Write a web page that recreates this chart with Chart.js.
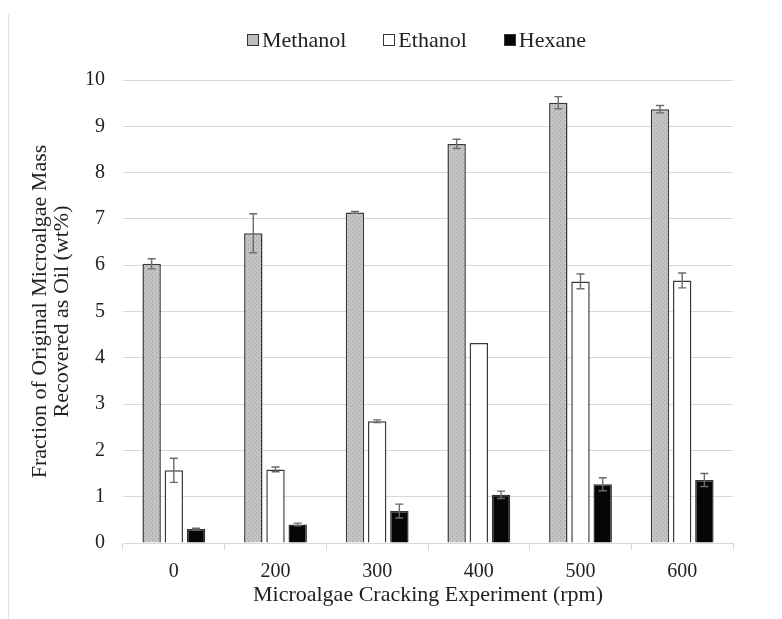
<!DOCTYPE html>
<html>
<head>
<meta charset="utf-8">
<script src="https://cdn.jsdelivr.net/npm/chart.js@4.4.1/dist/chart.umd.min.js"></script>
<style>
  body { margin: 0; background: #fff; }
  #wrap { position: relative; width: 782px; height: 619px; }
  #frame { position: absolute; left: 8px; top: 14px; width: 1px; height: 605px; background: #e3e3e3; }
  #legend { position: absolute; left: 247px; top: 27px; display: flex; align-items: center;
            font-family: "Liberation Serif", "Times New Roman", serif; font-size: 22px; color: #222; }
  #legend .item { display: flex; align-items: center; margin-right: 37px; }
  #legend .box { width: 12px; height: 12px; box-sizing: border-box; border: 1px solid #333; margin-right: 3px; }
</style>
</head>
<body>
<div id="wrap">
  <canvas id="chart" width="782" height="619"></canvas>
  <div id="frame"></div>
  <div id="legend"></div>
</div>
<script>
// ── Data ─────────────────────────────────────────────
const speeds      = ["0", "200", "300", "400", "500", "600"];
const methanol    = [6.03, 6.69, 7.14, 8.62, 9.51, 9.37];
const methanolErr = [0.11, 0.42, 0.02, 0.10, 0.13, 0.08];
const ethanol     = [1.57, 1.59, 2.63, 4.32, 5.65, 5.67];
const ethanolErr  = [0.26, 0.05, 0.03, 0.00, 0.16, 0.16];
const hexane      = [0.30, 0.40, 0.69, 1.04, 1.27, 1.36];
const hexaneErr   = [0.02, 0.03, 0.15, 0.08, 0.14, 0.14];
const yTicks      = [0, 1, 2, 3, 4, 5, 6, 7, 8, 9, 10];

const FONT = "'Liberation Serif', 'Times New Roman', serif";
const TEXT = "#222";
const GRID = "#d9d9d9";

// stippled grey fill for methanol bars
function stipple() {
  const c = document.createElement("canvas");
  c.width = 4; c.height = 4;
  const g = c.getContext("2d");
  g.fillStyle = "#c4c4c4";
  g.fillRect(0, 0, 4, 4);
  g.fillStyle = "#a0a0a0";
  g.fillRect(0, 0, 1, 1);
  g.fillRect(2, 2, 1, 1);
  return g.createPattern(c, "repeat");
}
const methanolFill = stipple();

// ── Error bars ───────────────────────────────────────
const errorBars = {
  id: "errorBars",
  afterDatasetsDraw(chart) {
    const ctx = chart.ctx;
    const y = chart.scales.y;
    ctx.save();
    ctx.strokeStyle = "#6b6b6b";
    ctx.lineWidth = 1.4;
    chart.data.datasets.forEach((ds, di) => {
      if (!ds.errors) return;
      chart.getDatasetMeta(di).data.forEach((bar, i) => {
        const e = ds.errors[i];
        if (!e) return;
        const top = y.getPixelForValue(ds.data[i] + e);
        const bot = y.getPixelForValue(ds.data[i] - e);
        ctx.beginPath();
        ctx.moveTo(bar.x, top); ctx.lineTo(bar.x, bot);
        ctx.moveTo(bar.x - 4, top); ctx.lineTo(bar.x + 4, top);
        ctx.moveTo(bar.x - 4, bot); ctx.lineTo(bar.x + 4, bot);
        ctx.stroke();
      });
    });
    ctx.restore();
  }
};

const datasets = [
  { label: "Methanol", data: methanol, errors: methanolErr, backgroundColor: methanolFill, borderColor: "#3a3a3a", legendFill: "#bdbdbd" },
  { label: "Ethanol",  data: ethanol,  errors: ethanolErr,  backgroundColor: "#ffffff",    borderColor: "#3a3a3a", legendFill: "#ffffff" },
  { label: "Hexane",   data: hexane,   errors: hexaneErr,   backgroundColor: "#050505",    borderColor: "#333333", legendFill: "#050505" }
].map(d => Object.assign(d, { borderWidth: 1.5, categoryPercentage: 0.655, barPercentage: 0.83 }));

// ── HTML legend ──────────────────────────────────────
const legend = document.getElementById("legend");
datasets.forEach(d => {
  const item = document.createElement("div");
  item.className = "item";
  const box = document.createElement("span");
  box.className = "box";
  box.style.background = d.legendFill;
  const txt = document.createElement("span");
  txt.textContent = d.label;
  item.appendChild(box);
  item.appendChild(txt);
  legend.appendChild(item);
});

new Chart(document.getElementById("chart"), {
  type: "bar",
  data: { labels: speeds, datasets },
  options: {
    responsive: false,
    animation: false,
    layout: { padding: { left: 20, right: 49, top: 80, bottom: 11 } },
    plugins: { legend: { display: false }, tooltip: { enabled: false } },
    scales: {
      x: {
        afterFit: s => { s.height = 65; },
        grid: { offset: true, drawOnChartArea: false, drawTicks: true, tickLength: 7, color: GRID },
        border: { color: GRID },
        ticks: { color: TEXT, font: { family: FONT, size: 20 }, padding: 10 },
        title: { display: true, text: "Microalgae Cracking Experiment (rpm)", color: TEXT,
                 font: { family: FONT, size: 22 }, padding: { top: 2, bottom: 0 } }
      },
      y: {
        min: 0, max: 10,
        afterBuildTicks: s => { s.ticks = yTicks.map(v => ({ value: v })); },
        afterFit: s => { s.width = 103; },
        grid: { color: GRID, drawTicks: false },
        border: { display: false },
        ticks: { color: TEXT, font: { family: FONT, size: 20 }, padding: 18 },
        title: { display: true, text: ["Fraction of Original Microalgae Mass", "Recovered as Oil (wt%)"],
                 color: TEXT, font: { family: FONT, size: 22, lineHeight: 1.0 }, padding: { top: 9, bottom: 0 } }
      }
    }
  },
  plugins: [errorBars]
});
</script>
</body>
</html>
